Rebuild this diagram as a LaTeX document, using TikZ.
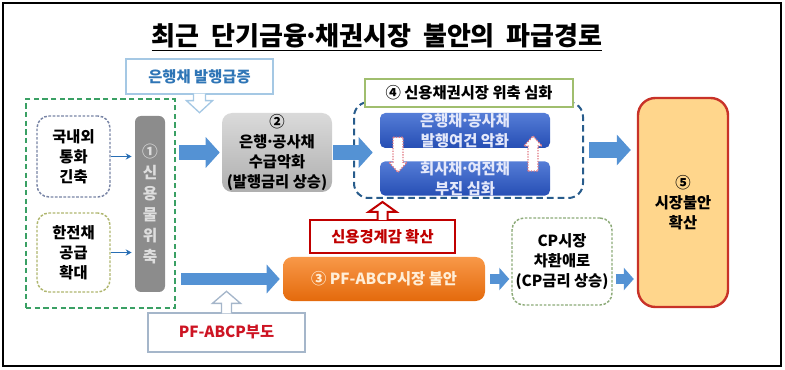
\documentclass[tikz,border=0pt]{standalone}
\usepackage{fontspec}
\setmainfont{Noto Sans CJK KR}
\usetikzlibrary{arrows.meta,calc}

\newcommand{\mdot}{\kern-0.14em·\kern-0.14em}

\definecolor{arrowblue}{RGB}{84,146,212}
\definecolor{linkblue}{RGB}{40,110,180}
\definecolor{issueblue}{RGB}{46,117,182}
\definecolor{issueline}{RGB}{165,200,228}
\definecolor{coregreen}{RGB}{58,160,100}
\definecolor{tightline}{RGB}{120,132,165}
\definecolor{kepcoline}{RGB}{175,182,110}
\definecolor{bargray}{RGB}{140,140,140}
\definecolor{bartext}{RGB}{222,222,222}
\definecolor{supplytop}{RGB}{218,218,218}
\definecolor{supplybottom}{RGB}{175,175,175}
\definecolor{groupblue}{RGB}{40,92,140}
\definecolor{labelgreen}{RGB}{160,190,110}
\definecolor{banktop}{RGB}{85,125,215}
\definecolor{bankbottom}{RGB}{38,78,180}
\definecolor{banktext}{RGB}{228,232,250}
\definecolor{swappink}{RGB}{225,120,130}
\definecolor{alertred}{RGB}{192,0,0}
\definecolor{pftop}{RGB}{248,152,72}
\definecolor{pfbottom}{RGB}{228,106,12}
\definecolor{pftext}{RGB}{255,238,215}
\definecolor{pfdline}{RGB}{165,182,202}
\definecolor{pfdred}{RGB}{205,20,35}
\definecolor{cpline}{RGB}{140,170,120}
\definecolor{spreadfill}{RGB}{255,214,140}
\definecolor{spreadred}{RGB}{200,50,40}

\begin{document}
\begin{tikzpicture}[
  x=0.75pt,y=-0.75pt,
  box/.style={align=center,inner sep=0pt,font=\bfseries\fontsize{11.5}{15}\selectfont},
  callout/.style={box,draw=#1,fill=white,line width=1pt},
  origin/.style={box,rounded corners=9pt,line width=1.1pt,dash pattern=on 2pt off 1.2pt},
  deepblue/.style={box,rounded corners=4pt,top color=banktop,bottom color=bankbottom,text=banktext,minimum width=127.5pt},
  pointer/.style={fill=white,draw=#1,line width=1pt},
  swap/.style={fill=white,draw=swappink,line width=1pt,densely dotted},
  bigarrow/.style={arrowblue,line width=11.5pt,-{Triangle[length=10.5pt,width=22.5pt]}},
  midarrow/.style={arrowblue,line width=9pt,-{Triangle[length=9.75pt,width=21pt]}},
  smallarrow/.style={arrowblue,line width=7.5pt,-{Triangle[length=7.5pt,width=16.5pt]}},
  thinarrow/.style={linkblue,line width=1pt,-{Stealth[length=4.5pt,width=4.5pt]}}
]
\useasboundingbox (0,0) rectangle (785,370);
\draw[line width=1.9pt] (3,3) rectangle (781,366);

\node[box,font=\bfseries\fontsize{19.5}{22}\selectfont] (title) at (377,37) {\underline{최근\ \ 단기금융\mdot 채권시장\ \ 불안의\ \ 파급경로}};

% left block
\node[callout=issueline,text=issueblue,minimum width=110.25pt,minimum height=26.25pt] (issue) at (199.5,76.5) {은행채 발행급증};
\filldraw[pointer=issueline] ($(issue.south)+(-6,-1)$) -- ++(0,7) -- ++(-7,0) -- ++(13,12) -- ++(13,-12) -- ++(-7,0) -- ++(0,-7);
\node[draw=coregreen,line width=1.8pt,dash pattern=on 4pt off 2.5pt,minimum width=111.75pt,minimum height=156.75pt] (core) at (100.5,203.5) {};
\node[origin,draw=tightline,minimum width=54.75pt,minimum height=60.75pt] (tight) at (73.5,156.5) {국내외\\통화\\긴축};
\node[origin,draw=kepcoline,minimum width=54.75pt,minimum height=59.25pt] (kepco) at (73.5,252.5) {한전채\\공급\\확대};
\node[box,fill=bargray,rounded corners=4.5pt,text=bartext,font=\bfseries\fontsize{11.8}{15.75}\selectfont,minimum width=22.5pt,minimum height=132pt] (shrink) at (150,204) {①\\신\\용\\물\\위\\축};
\draw[thinarrow,shorten >=2.25pt] (tight.east) -- (shrink.west |- tight.east);
\draw[thinarrow,shorten >=2.25pt] (kepco.east) -- (shrink.west |- kepco.east);

% middle
\node[box,rounded corners=7.5pt,top color=supplytop,bottom color=supplybottom,minimum width=82.5pt,minimum height=59.25pt] (supply) at (277,152.5) {②\\은행\mdot 공사채\\수급악화\\(발행금리 상승)};
\node[draw=groupblue,line width=1.5pt,dash pattern=on 5pt off 3pt,rounded corners=11pt,minimum width=171.75pt,minimum height=72pt] (credit) at (468.5,150) {};
\node[box,draw=labelgreen,fill=white,line width=1pt,minimum width=156pt,minimum height=21pt] (stage4) at (469,93) {④ 신용채권시장 위축 심화};
\node[deepblue,minimum height=26.25pt] (bank) at (465,130.5) {은행채\mdot 공사채\\발행여건 악화};
\node[deepblue,minimum height=24.75pt] (corp) at (465,178.5) {회사채\mdot 여전채\\부진 심화};
\filldraw[swap] ($(bank.south)+(-72,-11)$) -- ++(0,25) -- ++(-4,0) -- ++(9,10) -- ++(9,-10) -- ++(-4,0) -- ++(0,-25) -- cycle;
\filldraw[swap] ($(corp.north)+(63,10)$) -- ++(0,-25) -- ++(-4,0) -- ++(9,-10) -- ++(9,10) -- ++(-4,0) -- ++(0,25) -- cycle;

\node[callout=alertred,line width=1.5pt,text=alertred,minimum width=108.75pt,minimum height=24.75pt] (alert) at (382.5,236.5) {신용경계감 확산};
\filldraw[pointer=alertred,line width=1.5pt] ($(alert.north)+(-5,1)$) -- ++(0,-8) -- ++(-9,0) -- ++(14,-10) -- ++(14,10) -- ++(-9,0) -- ++(0,8);
\node[box,rounded corners=7pt,top color=pftop,bottom color=pfbottom,text=pftext,minimum width=151.5pt,minimum height=33pt] (pf) at (384,279) {③ PF-ABCP시장 불안};
\node[callout=pfdline,text=pfdred,minimum width=117.75pt,minimum height=29.25pt] (pfd) at (226.5,332.5) {PF-ABCP부도};
\filldraw[pointer=pfdline] ($(pfd.north)+(-5,1)$) -- ++(0,-10) -- ++(-9,0) -- ++(14,-12) -- ++(14,12) -- ++(-9,0) -- ++(0,10);

% right
\node[origin,draw=cpline,minimum width=75pt,minimum height=65.25pt] (cp) at (562,261.5) {CP시장\\차환애로\\(CP금리 상승)};
\node[box,fill=spreadfill,draw=spreadred,line width=1.8pt,rounded corners=13pt,minimum width=67.5pt,minimum height=156.75pt] (spread) at (683,202.5) {⑤\\시장불안\\확산};

\draw[bigarrow,shorten <=2.25pt,shorten >=1.5pt] (core.east |- supply.west) -- (supply.west);
\draw[midarrow,shorten <=3.75pt,shorten >=2.25pt] (core.east |- pf.west) -- (pf.west);
\draw[bigarrow,shorten <=0.75pt,shorten >=5.25pt] (supply.east) -- (bank.west |- supply.east);
\draw[bigarrow,shorten <=3.75pt,shorten >=4.5pt] (credit.east) -- (spread.west |- credit.east);
\draw[smallarrow,shorten <=3.75pt,shorten >=1.5pt] (pf.east) -- (cp.west |- pf.east);
\draw[smallarrow,shorten <=2.25pt,shorten >=2.25pt] (cp.east |- pf.east) -- (spread.west |- pf.east);
\end{tikzpicture}
\end{document}
